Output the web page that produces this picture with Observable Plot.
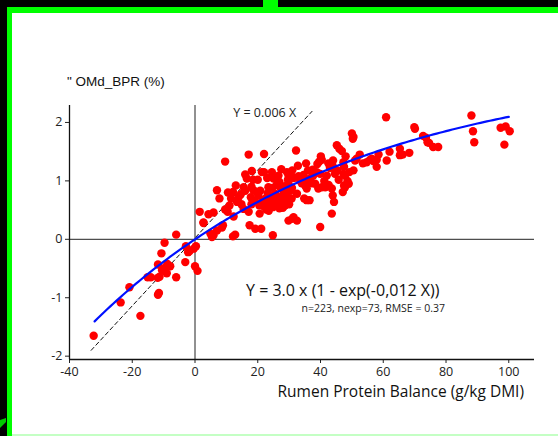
<!DOCTYPE html>
<html>
<head>
<meta charset="utf-8">
<script src="https://cdn.jsdelivr.net/npm/d3@7"></script>
<script src="https://cdn.jsdelivr.net/npm/@observablehq/plot@0.6"></script>
<style>
  html, body { margin: 0; padding: 0; background: #000; }
  #frame { position: relative; width: 558px; height: 436px; overflow: hidden; background: #000; }
  #panel { position: absolute; left: 7px; top: 7px; right: 0; bottom: 0; background: #fff;
           border-top: 6px solid #00ff00; border-left: 5px solid #00ff00; }
  #tab { position: absolute; left: 263px; top: 0; width: 15px; height: 7px; background: #00ff00; }
  #foot { position: absolute; left: 12px; right: 0; top: 434px; height: 2px; background: #c4ffc4; }
  #notch { position: absolute; left: 0; top: 418px; width: 6px; height: 10px; background: #00c800;
           clip-path: polygon(100% 0, 100% 40%, 0 100%, 0 20%); }
  #chart { position: absolute; left: 0; top: 0; }
  .title { position: absolute; color: #111; white-space: nowrap; line-height: 1; }
  #ytitle { left: 67px; top: 75px; font-size: 13.5px; font-family: "Liberation Sans", Arial, sans-serif; }
  #xtitle { right: 34px; top: 385px; font-size: 15.5px; font-family: "Open Sans", sans-serif; line-height: 12px; }
</style>
</head>
<body>
<div id="frame">
  <div id="panel"></div>
  <div id="tab"></div>
  <div id="foot"></div>
  <div id="notch"></div>
  <div id="chart"></div>
  <div class="title" id="ytitle">" OMd_BPR (%)</div>
  <div class="title" id="xtitle">Rumen Protein Balance (g/kg DMI)</div>
</div>
<script>
// Observations: rumen protein balance (g/kg DMI) and change in OMd_BPR (%)
const rpb = [
  -32.3, -23.7, -20.9, -17.4, -15.1, -14.1, -11.8, -11.5, -11.8, -11.9, -11.3, -10.5, -9.7, -8.8, -7.9,
  -9.0, -6.0, -10.7, -9.7, -6.0, -2.9, -3.1, -2.2, -1.7, -0.4, 0.3, 0.0, 0.8, 2.7, 4.9, 5.4, 5.9, 7.0,
  1.5, 2.7, 4.3, 5.9, 7.0, 7.8, 8.9, 8.6, 9.6, 9.6, 10.4, 11.0, 12.1, 12.3, 12.1, 12.8, 13.4, 13.9,
  14.6, 15.5, 16.0, 16.5, 15.5, 16.0, 17.1, 17.1, 17.4, 18.1, 18.5, 19.2, 19.7, 20.2, 20.8, 20.6, 21.1,
  21.3, 22.0, 22.0, 24.5, 25.0, 24.8, 26.6, 26.9, 28.7, 28.2, 29.3, 29.8, 29.6, 29.8, 30.3, 30.9, 30.9,
  31.4, 32.5, 32.2, 32.5, 32.8, 33.5, 34.0, 33.0, 34.8, 35.6, 36.5, 35.1, 35.6, 35.4, 37.5, 37.7, 39.0,
  39.6, 40.1, 40.4, 38.3, 39.3, 40.4, 39.9, 38.8, 39.9, 41.5, 42.0, 43.6, 43.9, 44.3, 43.6, 43.0, 43.9,
  45.2, 46.0, 46.8, 47.3, 47.5, 47.3, 47.8, 47.5, 47.8, 47.1, 50.0, 50.5, 50.3, 50.5, 51.0, 51.5, 54.7,
  55.8, 56.3, 56.8, 57.9, 57.9, 61.1, 60.9, 65.3, 65.3, 66.2, 68.3, 69.9, 70.1, 72.7, 73.6, 74.1, 74.6,
  75.9, 77.5, 88.1, 88.6, 89.0, 97.4, 99.0, 100.3, 98.6,
  21.8, 22.6, 23.2, 23.8, 24.4, 25.0, 25.5, 26.0, 26.4, 27.0, 27.8, 28.2, 28.8, 29.0, 29.4, 30.0, 30.8,
  22.0, 22.7, 23.5, 24.8, 26.1, 26.9, 28.0, 24.6, 26.0, 27.3, 28.6, 29.8, 23.4, 21.0, 22.4, 25.6, 27.4,
  23.0, 20.5, 19.0, 18.0, 17.8, 18.6,
  34.6, 36.2, 37.3, 36.8, 41.2, 42.6, 44.6, 45.4, 45.8, 48.6, 49.2, 44.0, 42.5, 36.0, 31.5, 31.0, 27.5,
  18.0, 14.8, 11.5, 13.0, 10.5, 20.0, 23.0, 52.5, 53.5, 48.0, 62.0, 58.5, 49.0
];
const dOMd = [
  -1.65, -1.08, -0.82, -1.31, -0.65, -0.65, -0.43, -0.92, -0.95, -0.66, -0.64, -0.53, -0.49, -0.42, -0.46,
  -0.58, -0.65, -0.24, -0.06, 0.08, -0.12, -0.39, -0.22, -0.20, -0.16, -0.12, -0.46, -0.54, 0.28, 0.10, 0.04, 0.07, 0.15,
  0.47, 0.29, 0.43, 0.46, 0.84, 0.70, 0.24, 0.20, 1.33, 0.51, 0.47, 0.58, 0.81, 0.39, 0.05, 0.08, 0.64, 0.72,
  0.77, 0.52, 1.11, 1.04, 0.89, 0.83, 0.47, 1.45, 0.24, 1.17, 1.02, 0.18, 0.81, 0.75, 0.83, 0.44, 0.18,
  1.15, 1.15, 1.46, 1.15, 1.04, 0.07, 1.09, 0.98, 0.58, 0.61, 1.15, 1.09, 1.02, 0.32, 0.83, 0.88, 0.35,
  0.38, 0.78, 1.52, 0.32, 1.26, 1.01, 0.96, 1.08, 0.70, 0.67, 0.67, 0.92, 0.87, 1.30, 1.19, 1.09, 1.29,
  1.33, 1.42, 1.36, 0.95, 0.87, 0.89, 0.21, 1.15, 1.12, 0.89, 1.09, 0.87, 0.75, 0.64, 0.44, 1.22, 1.25,
  1.61, 1.55, 1.51, 1.32, 1.24, 1.12, 1.09, 0.92, 0.89, 0.81, 1.81, 1.75, 1.72, 1.18, 1.35, 1.38, 1.32,
  1.36, 1.38, 1.34, 1.36, 1.24, 1.35, 2.09, 1.55, 1.44, 1.45, 1.48, 1.92, 1.89, 1.77, 1.74, 1.66, 1.65,
  1.58, 1.58, 2.12, 1.85, 1.66, 1.91, 1.93, 1.85, 1.62,
  0.67, 0.70, 0.79, 0.63, 0.56, 0.72, 0.78, 0.67, 0.70, 0.62, 0.74, 0.81, 0.63, 0.76, 0.66, 0.60, 0.70,
  0.56, 0.51, 0.49, 0.55, 0.60, 0.53, 0.54, 0.88, 0.93, 0.88, 0.91, 0.95, 0.89, 0.62, 0.62, 0.63, 0.70,
  0.72, 0.58, 0.66, 0.60, 0.72, 0.84,
  1.10, 1.01, 0.96, 1.05, 1.00, 0.93, 1.12, 1.18, 1.02, 1.00, 1.15, 1.35, 1.30, 1.18, 1.05, 1.18, 1.20,
  0.90, 0.60, 0.70, 0.92, 0.80, 1.02, 1.05, 1.45, 1.30, 1.42, 1.50, 1.45, 0.95
];

// Fitted model Y = a (1 - exp(-b X)), a = 3.0, b = 0.012
const fitA = 3.0;
const fitB = 0.012;
const fitRange = [-32, 100];

// Initial-slope reference line (dashed), end points
const slopeX = [-33.1, 37.3];
const slopeY = [-1.90, 2.19];

const xTicks = [-40, -20, 0, 20, 40, 60, 80, 100];
const yTicks = [-2, -1, 0, 1, 2];

const points = rpb.map((x, i) => ({x, y: dOMd[i]}));
const fit = d3.range(fitRange[0], fitRange[1] + 0.5, 1).map(x => ({x, y: fitA * (1 - Math.exp(-fitB * x))}));
const slopeLine = slopeX.map((x, i) => ({x, y: slopeY[i]}));

const xDomain = [-40, 108.2];
const yDomain = [-2.057, 2.29];

const chart = Plot.plot({
  width: 558,
  height: 436,
  marginLeft: 69,
  marginRight: 24,
  marginTop: 105,
  marginBottom: 77,
  style: {background: "transparent", fontFamily: "'Open Sans', sans-serif", fontSize: "12.5px", color: "#222", overflow: "visible"},
  x: {domain: xDomain, ticks: xTicks, tickSize: 4, tickPadding: 4, tickFormat: d => String(d), label: null},
  y: {domain: yDomain, ticks: yTicks, tickSize: 4, tickPadding: 3, tickFormat: d => String(d), label: null},
  marks: [
    // zero reference lines
    Plot.ruleY([0], {stroke: "#222", strokeWidth: 1}),
    Plot.ruleX([0], {stroke: "#222", strokeWidth: 1}),
    // axis lines
    Plot.ruleX([xDomain[0]], {stroke: "#111", strokeWidth: 1.3}),
    Plot.ruleY([yDomain[0]], {stroke: "#111", strokeWidth: 1.3}),
    Plot.line(slopeLine, {x: "x", y: "y", stroke: "#111", strokeWidth: 1, strokeDasharray: "4,3"}),
    Plot.dot(points, {x: "x", y: "y", r: 4.2, fill: "#ff0000", stroke: "none"}),
    Plot.line(fit, {x: "x", y: "y", stroke: "#0010ff", strokeWidth: 2.2}),
    Plot.text(["Y = 0.006 X"], {x: 22.2, y: 2.16, text: d => d, fontSize: 12.5, fill: "#222"}),
    Plot.text(["Y = 3.0 x (1 - exp(-0,012 X))"], {x: 47.1, y: -0.89, text: d => d, fontSize: 16, fill: "#111"}),
    Plot.text(["n=223, nexp=73, RMSE = 0.37"], {x: 56.8, y: -1.19, text: d => d, fontSize: 10.5, fill: "#222"})
  ]
});
document.getElementById("chart").appendChild(chart);
</script>
</body>
</html>
